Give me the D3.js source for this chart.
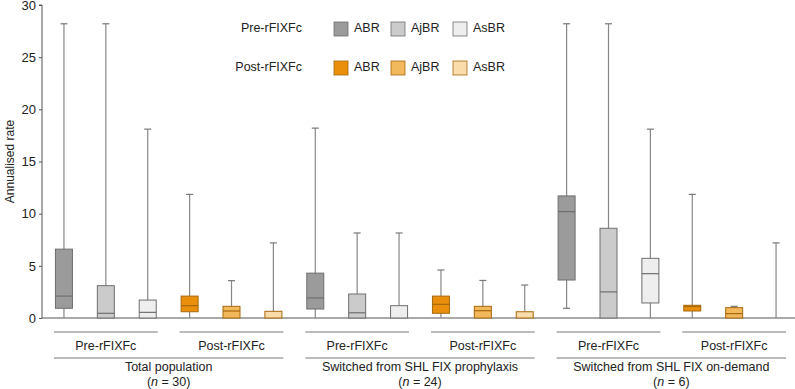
<!DOCTYPE html>
<html>
<head>
<meta charset="utf-8">
<script src="https://cdn.jsdelivr.net/npm/d3@7"></script>
<style>
  body { margin: 0; background: #fff; }
  text { font-family: "Liberation Sans", Arial, sans-serif; fill: #222; }
</style>
</head>
<body>
<svg id="chart" width="795" height="389"></svg>
<script>
// one entry per box, left to right
var groups = ["Total population", "Switched from SHL FIX prophylaxis", "Switched from SHL FIX on-demand"]
var group_n = [30, 24, 6]
var periods = ["Pre-rFIXFc", "Post-rFIXFc"]
var measures = ["ABR", "AjBR", "AsBR"]

// [min, q1, median, q3, max] in group/period/measure order
var stats = [
    [0, 0.93, 2.1, 6.6, 28.2],
    [0, 0, 0.45, 3.1, 28.2],
    [0, 0, 0.54, 1.72, 18.1],
    [0, 0.6, 1.18, 2.1, 11.85],
    [0, 0, 0.67, 1.12, 3.58],
    [0, 0, 0, 0.64, 7.2],

    [0, 0.86, 1.92, 4.3, 18.2],
    [0, 0, 0.5, 2.3, 8.15],
    [0, 0, 0, 1.18, 8.15],
    [0, 0.45, 1.31, 2.1, 4.6],
    [0, 0, 0.7, 1.12, 3.6],
    [0, 0, 0, 0.6, 3.16],

    [0.93, 3.64, 10.2, 11.7, 28.2],
    [0, 0, 2.5, 8.6, 28.2],
    [0, 1.44, 4.25, 5.72, 18.1],
    [0, 0.67, 1.1, 1.22, 11.85],
    [0, 0, 0.42, 0.99, 1.12],
    [0, 0, 0, 0, 7.2]
]
var y_ticks = [0, 5, 10, 15, 20, 25, 30]

var fills = {
    "Pre-rFIXFc": ["#9b9b9b", "#cbcbcb", "#eeeeee"],
    "Post-rFIXFc": ["#e98f0c", "#f2b95c", "#f9dcaa"]
}
var strokes = {
    "Pre-rFIXFc": "#6f6f6f",
    "Post-rFIXFc": "#a7680e"
}

var svg = d3.select("#chart")

var boxes = []
var k = 0
for (g of groups) {
    for (p of periods) {
        measures.forEach(function(m, mi) {
            boxes.push({id: k, group: g, period: p, measure: m, mi: mi, s: stats[k]})
            k++
        })
    }
}

var x = d3.scalePoint()
    .domain(boxes.map(function(d) { return d.id }))
    .range([43, 797])
    .padding(0.5)

var y = d3.scaleLinear().domain([0, 30]).range([318, 5])

var bw = 17

// axes
var yAxis = svg.append("g")
    .attr("transform", "translate(42,0)")
    .call(d3.axisLeft(y).tickValues(y_ticks).tickSize(3).tickPadding(3))
yAxis.select(".domain").attr("stroke", "#555").attr("d", "M-3," + y(30) + "H0V" + y(0))
yAxis.selectAll(".tick line").attr("stroke", "#555")
yAxis.selectAll(".tick text").style("font-size", "13px").attr("fill", "#222")

svg.append("line")
    .attr("x1", 42).attr("x2", 795)
    .attr("y1", y(0)).attr("y2", y(0))
    .attr("stroke", "#555")

svg.append("text")
    .attr("transform", "translate(11," + y(15) + ") rotate(-90)")
    .attr("text-anchor", "middle")
    .attr("dominant-baseline", "middle")
    .style("font-size", "12px")
    .text("Annualised rate")

// whiskers
var gb = svg.append("g")
gb.selectAll(".whisker")
    .data(boxes)
    .enter().append("line")
    .attr("class", "whisker")
    .attr("x1", function(d) { return x(d.id) })
    .attr("x2", function(d) { return x(d.id) })
    .attr("y1", function(d) { return y(d.s[0]) })
    .attr("y2", function(d) { return y(d.s[4]) })
    .attr("stroke", "#888")
    .attr("stroke-width", 1.2)

gb.selectAll(".cap")
    .data(boxes.filter(function(d) { return d.s[4] > 0 }))
    .enter().append("line")
    .attr("class", "cap")
    .attr("x1", function(d) { return x(d.id) - 3.5 })
    .attr("x2", function(d) { return x(d.id) + 3.5 })
    .attr("y1", function(d) { return y(d.s[4]) })
    .attr("y2", function(d) { return y(d.s[4]) })
    .attr("stroke", "#777")
    .attr("stroke-width", 1.2)

gb.selectAll(".lowcap")
    .data(boxes.filter(function(d) { return d.s[0] > 0 }))
    .enter().append("line")
    .attr("class", "lowcap")
    .attr("x1", function(d) { return x(d.id) - 3.5 })
    .attr("x2", function(d) { return x(d.id) + 3.5 })
    .attr("y1", function(d) { return y(d.s[0]) })
    .attr("y2", function(d) { return y(d.s[0]) })
    .attr("stroke", "#777")
    .attr("stroke-width", 1.2)

var withBox = boxes.filter(function(d) { return d.s[3] > d.s[1] })

gb.selectAll(".box")
    .data(withBox)
    .enter().append("rect")
    .attr("class", "box")
    .attr("x", function(d) { return x(d.id) - bw / 2 })
    .attr("width", bw)
    .attr("y", function(d) { return y(d.s[3]) })
    .attr("height", function(d) { return y(d.s[1]) - y(d.s[3]) })
    .attr("fill", function(d) { return fills[d.period][d.mi] })
    .attr("stroke", function(d) { return strokes[d.period] })
    .attr("stroke-width", 1)

gb.selectAll(".median")
    .data(withBox.filter(function(d) { return d.s[2] > 0 }))
    .enter().append("line")
    .attr("class", "median")
    .attr("x1", function(d) { return x(d.id) - bw / 2 })
    .attr("x2", function(d) { return x(d.id) + bw / 2 })
    .attr("y1", function(d) { return y(d.s[2]) })
    .attr("y2", function(d) { return y(d.s[2]) })
    .attr("stroke", function(d) { return strokes[d.period] })
    .attr("stroke-width", 1.2)

// category labels under the axis
var gl = svg.append("g")
groups.forEach(function(g, gi) {
    periods.forEach(function(p, pi) {
        var sub = boxes.filter(function(d) { return d.group == g && d.period == p })
        var x0 = x(sub[0].id) - 10
        var x1 = x(sub[2].id) + 10
        gl.append("line")
            .attr("x1", x0).attr("x2", x1)
            .attr("y1", 332).attr("y2", 332)
            .attr("stroke", "#777")
        gl.append("text")
            .attr("x", (x0 + x1) / 2).attr("y", 349.5)
            .attr("text-anchor", "middle")
            .style("font-size", "12.5px")
            .text(p)
    })
    var all = boxes.filter(function(d) { return d.group == g })
    var gx0 = x(all[0].id) - 10
    var gx1 = x(all[5].id) + 10
    gl.append("line")
        .attr("x1", gx0).attr("x2", gx1)
        .attr("y1", 358).attr("y2", 358)
        .attr("stroke", "#777")
    gl.append("text")
        .attr("x", (gx0 + gx1) / 2).attr("y", 371)
        .attr("text-anchor", "middle")
        .style("font-size", "12.5px")
        .text(g)
    var t = gl.append("text")
        .attr("x", (gx0 + gx1) / 2).attr("y", 386)
        .attr("text-anchor", "middle")
        .style("font-size", "12.5px")
    t.append("tspan").text("(")
    t.append("tspan").style("font-style", "italic").text("n")
    t.append("tspan").text(" = " + group_n[gi] + ")")
})

// legend
var legend = svg.append("g")
var leg_x = [334, 391, 453]
var leg_y = [22, 61]
periods.forEach(function(p, pi) {
    legend.append("text")
        .attr("x", 302).attr("y", leg_y[pi] + 7)
        .attr("text-anchor", "end")
        .attr("dominant-baseline", "middle")
        .style("font-size", "12.5px")
        .text(p)
    measures.forEach(function(m, mi) {
        legend.append("rect")
            .attr("x", leg_x[mi]).attr("y", leg_y[pi])
            .attr("width", 14).attr("height", 14)
            .attr("fill", fills[p][mi])
            .attr("stroke", strokes[p])
            .attr("stroke-width", 0.8)
        legend.append("text")
            .attr("x", leg_x[mi] + 20).attr("y", leg_y[pi] + 7)
            .attr("dominant-baseline", "middle")
            .style("font-size", "12.5px")
            .text(m)
    })
})
</script>
</body>
</html>
